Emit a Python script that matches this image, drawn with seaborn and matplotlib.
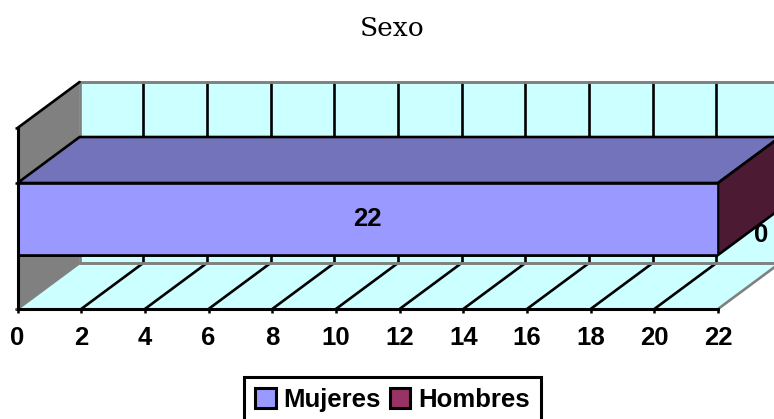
import pandas as pd
import seaborn as sns
import matplotlib.pyplot as plt
from matplotlib.patches import Patch

grupo = ['Sexo']
mujeres = [22]
hombres = [0]
xticks = [0, 2, 4, 6, 8, 10, 12, 14, 16, 18, 20, 22]

sns.set_style('white')
plt.rcParams['font.family'] = ['Liberation Sans', 'DejaVu Sans']
plt.rcParams['text.color'] = 'black'
plt.rcParams['xtick.color'] = 'black'
plt.rcParams['ytick.color'] = 'black'
plt.rcParams['axes.edgecolor'] = 'black'

c_muj = '#9999ff'
c_hom = '#993366'
c_top = '#7373bb'
c_side = '#4d1a33'
c_wall = '#ccffff'
c_gris = '#808080'
lw = 1.9
fs = 18.5

w, h = 774, 419
fig = plt.figure(figsize=(w / 100, h / 100), dpi=100)
ax = fig.add_axes([17.5 / w, (h - 309) / h, 700.5 / w, 181 / h])

df = pd.DataFrame({'grupo': grupo, 'mujeres': mujeres, 'hombres': hombres})
df['total'] = df['mujeres'] + df['hombres']

# stacked: total first, mujeres over it
sns.barplot(data=df, y='grupo', x='total', color=c_hom, saturation=1, width=1,
            edgecolor='black', linewidth=lw, zorder=5, ax=ax)
sns.barplot(data=df, y='grupo', x='mujeres', color=c_muj, saturation=1, width=1,
            edgecolor='black', linewidth=lw, zorder=6, ax=ax)

y0, y1 = -1.25, 1.264
ax.set_xlim(0, 22)
ax.set_ylim(y0, y1)

# fake 3d depth, in data units
dx = 1.95
dy = 46 / 72
xmax = xticks[-1]
total = df['total'][0]

kw = dict(clip_on=False, joinstyle='miter')
# back wall, left wall, floor
ax.fill([dx, xmax + dx, xmax + dx, dx], [y0 + dy, y0 + dy, y1 + dy, y1 + dy], color=c_wall, lw=0, zorder=1, **kw)
ax.fill([0, dx, dx, 0], [y0, y0 + dy, y1 + dy, y1], color=c_gris, lw=0, zorder=1, **kw)
ax.fill([0, xmax, xmax + dx, dx], [y0, y0, y0 + dy, y0 + dy], color=c_wall, lw=0, zorder=2, **kw)

for t in xticks:
    ax.plot([t + dx, t + dx], [y0 + dy, y1 + dy], color='black' if t > 0 else c_gris, lw=lw, zorder=2, clip_on=False)
    ax.plot([t, t + dx], [y0, y0 + dy], color='black' if 0 < t < xmax else c_gris, lw=lw, zorder=3, clip_on=False)
ax.plot([dx, xmax + dx], [y0 + dy, y0 + dy], color=c_gris, lw=2.1, zorder=3, clip_on=False)
ax.plot([dx, xmax + dx], [y1 + dy, y1 + dy], color=c_gris, lw=2.1, zorder=3, clip_on=False)
ax.plot([0, dx], [y1, y1 + dy], color='black', lw=lw, zorder=3, clip_on=False)

# top and side of the bar
ax.fill([0, total, total + dx, dx], [0.5, 0.5, 0.5 + dy, 0.5 + dy], facecolor=c_top, edgecolor='black', lw=lw, zorder=4, **kw)
ax.fill([total, total + dx, total + dx, total], [-0.5, -0.5 + dy, 0.5 + dy, 0.5], facecolor=c_side, edgecolor='black', lw=lw, zorder=4, **kw)

ax.bar_label(ax.containers[1], labels=[str(mujeres[0])], label_type='center',
             fontsize=fs, fontweight='bold', zorder=8)
ax.text(total + dx * 0.69, -0.22, str(hombres[0]), ha='center', va='center',
        fontsize=fs, fontweight='bold', zorder=8, clip_on=False)

for s in ['top', 'right']:
    ax.spines[s].set_visible(False)
for s in ['left', 'bottom']:
    ax.spines[s].set_linewidth(2.2)
    ax.spines[s].set_zorder(7)

ax.set_xticks(xticks)
ax.set_yticks([y0, 0.5, y1])
ax.set_yticklabels([])
ax.tick_params(axis='x', bottom=True, direction='out', length=3, width=1.8, labelsize=fs, pad=9.5)
ax.tick_params(axis='y', left=True, direction='out', length=2.5, width=1.8)
for lab in ax.get_xticklabels():
    lab.set_fontweight('bold')
ax.set_xlabel('')
ax.set_ylabel('')

fig.text(392 / w, 1 - 28 / h, grupo[0], family='DejaVu Serif', fontsize=19, ha='center', va='center')

handles = [Patch(facecolor=c_muj, edgecolor='black', lw=2.2, label='Mujeres'),
           Patch(facecolor=c_hom, edgecolor='black', lw=2.2, label='Hombres')]
leg = fig.legend(handles=handles, loc='upper center', bbox_to_anchor=(392.5 / w, 1 - 377 / h), ncol=2,
                 fancybox=False, framealpha=1, edgecolor='black', borderpad=0.42, handlelength=0.8,
                 handleheight=0.8, handletextpad=0.3, columnspacing=0.35, borderaxespad=0,
                 prop={'size': fs, 'weight': 'bold'})
leg.get_frame().set_linewidth(2.2)

fig.savefig('out.png', dpi=100)
